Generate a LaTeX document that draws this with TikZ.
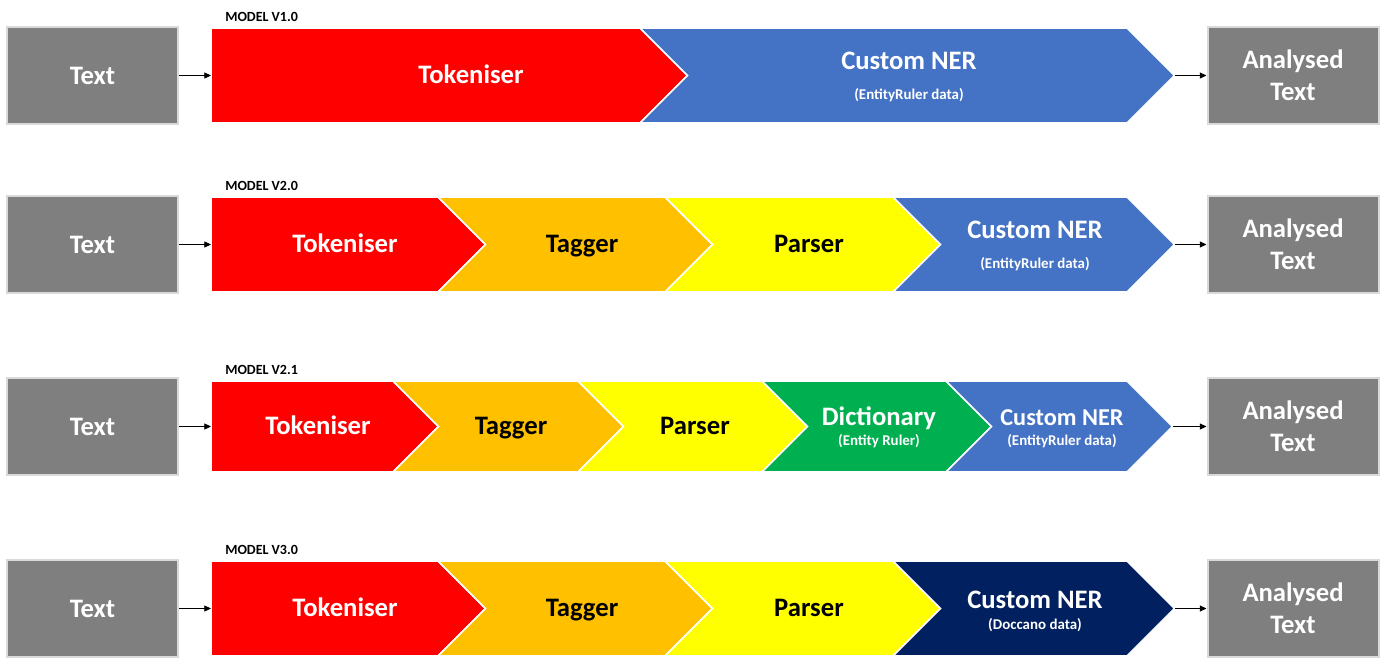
\documentclass[tikz,border=0pt]{standalone}
\usepackage{fontspec}
\setmainfont{Carlito}
\usetikzlibrary{arrows.meta}
\definecolor{cred}{HTML}{FF0000}
\definecolor{corange}{HTML}{FFC000}
\definecolor{cyellow}{HTML}{FFFF00}
\definecolor{cgreen}{HTML}{00B050}
\definecolor{cblue}{HTML}{4472C4}
\definecolor{cnavy}{HTML}{002060}
\definecolor{boxgray}{HTML}{7F7F7F}
\definecolor{boxedge}{HTML}{D9D9D9}
\newcommand\lblfont{\fontsize{20}{24}\selectfont\bfseries}
\newcommand\midlblfont{\fontsize{18.2}{21}\selectfont\bfseries}
\newcommand\sublblfont{\fontsize{11.2}{13}\selectfont\bfseries}
\newcommand\mdlfont{\fontsize{10.5}{12}\selectfont\bfseries}
\newcommand\chevseg[6]{%
  \pgfmathsetmacro\ym{(#3+#4)/2}\pgfmathsetmacro\dd{(#4-#3)/2}%
  \ifnum#6=1
    \path[seg,fill=#5] (#1,#3)--(#2,#3)--({#2+\dd},\ym)--(#2,#4)--(#1,#4)--cycle;
  \else
    \path[seg,fill=#5] (#1,#3)--(#2,#3)--({#2+\dd},\ym)--(#2,#4)--(#1,#4)--({#1+\dd},\ym)--cycle;
  \fi}
\tikzset{
  inbox/.style={fill=boxgray, draw=boxedge, line width=1.5pt, minimum width=128.25pt,
    minimum height=72.75pt, inner sep=0pt, text=white, font=\lblfont, align=center},
  seg/.style={draw=white, line width=1.2pt, line join=miter},
  wlbl/.style={text=white, font=\lblfont, inner sep=0pt, text height=12.9pt, text depth=0pt},
  blbl/.style={text=black, font=\lblfont, inner sep=0pt, text height=12.9pt, text depth=0pt},
  mlbl/.style={text=white, font=\midlblfont, inner sep=0pt, text height=11.7pt, text depth=0pt},
  sublbl/.style={text=white, font=\sublblfont, inner sep=0pt, text height=7.2pt, text depth=0pt},
  model/.style={font=\mdlfont, anchor=west, inner sep=0pt, text height=6.8pt, text depth=0pt},
  flow/.style={-{Triangle[length=5pt,width=4.5pt]}, line width=0.6pt}
}
\begin{document}
\begin{tikzpicture}[x=0.75pt,y=-0.75pt]
\useasboundingbox (0,0) rectangle (1388,668);
% ---------- Row 1 ----------
\node[model] (m1) at (225,16.5) {MODEL V1.0};
\node[inbox] (t1) at (92.5,75.5) {Text};
\node[inbox] (a1) at (1293,75.5) {Analysed\\Text};
\chevseg{211}{640}{28}{123}{cred}{1}
\chevseg{640}{1127}{28}{123}{cblue}{0}
\node[wlbl] (r1a) at (471,75) {Tokeniser};
\node[wlbl] (r1b) at (909,61) {Custom NER};
\node[sublbl] (r1bs) at (909,95) {(EntityRuler data)};
\coordinate (r1in) at (211,75.5);
\coordinate (r1out) at (1174.5,75.5);
\draw[flow] (t1) -- (r1in);
\draw[flow] (r1out) -- (a1);
% ---------- Row 2 ----------
\node[model] (m2) at (225,185.5) {MODEL V2.0};
\node[inbox] (t2) at (92.5,244.5) {Text};
\node[inbox] (a2) at (1293,244.5) {Analysed\\Text};
\chevseg{211}{438}{197}{292}{cred}{1}
\chevseg{438}{665}{197}{292}{corange}{0}
\chevseg{665}{893}{197}{292}{cyellow}{0}
\chevseg{893}{1127}{197}{292}{cblue}{0}
\node[wlbl] (r2a) at (345,244) {Tokeniser};
\node[blbl] (r2b) at (582,244) {Tagger};
\node[blbl] (r2c) at (809,244) {Parser};
\node[wlbl] (r2d) at (1035,230) {Custom NER};
\node[sublbl] (r2ds) at (1035,264) {(EntityRuler data)};
\coordinate (r2in) at (211,244.5);
\coordinate (r2out) at (1174.5,244.5);
\draw[flow] (t2) -- (r2in);
\draw[flow] (r2out) -- (a2);
% ---------- Row 3 ----------
\node[model] (m3) at (225,369.5) {MODEL V2.1};
\node[inbox] (t3) at (92.5,426.5) {Text};
\node[inbox] (a3) at (1293,426.5) {Analysed\\Text};
\chevseg{211}{393}{381}{472}{cred}{1}
\chevseg{393}{578}{381}{472}{corange}{0}
\chevseg{578}{762}{381}{472}{cyellow}{0}
\chevseg{762}{946}{381}{472}{cgreen}{0}
\chevseg{946}{1127}{381}{472}{cblue}{0}
\node[wlbl] (r3a) at (318,426) {Tokeniser};
\node[blbl] (r3b) at (511,426) {Tagger};
\node[blbl] (r3c) at (695,426) {Parser};
\node[wlbl] (r3d) at (879,417) {Dictionary};
\node[sublbl] (r3ds) at (879,441) {(Entity Ruler)};
\node[mlbl] (r3e) at (1062,418) {Custom NER};
\node[sublbl] (r3es) at (1062,441) {(EntityRuler data)};
\coordinate (r3in) at (211,426.5);
\coordinate (r3out) at (1172.5,426.5);
\draw[flow] (t3) -- (r3in);
\draw[flow] (r3out) -- (a3);
% ---------- Row 4 ----------
\node[model] (m4) at (225,549.5) {MODEL V3.0};
\node[inbox] (t4) at (92.5,608.5) {Text};
\node[inbox] (a4) at (1293,608.5) {Analysed\\Text};
\chevseg{211}{438}{561}{656}{cred}{1}
\chevseg{438}{665}{561}{656}{corange}{0}
\chevseg{665}{893}{561}{656}{cyellow}{0}
\chevseg{893}{1127}{561}{656}{cnavy}{0}
\node[wlbl] (r4a) at (345,608) {Tokeniser};
\node[blbl] (r4b) at (582,608) {Tagger};
\node[blbl] (r4c) at (809,608) {Parser};
\node[wlbl] (r4d) at (1035,600) {Custom NER};
\node[sublbl] (r4ds) at (1035,625) {(Doccano data)};
\coordinate (r4in) at (211,608.5);
\coordinate (r4out) at (1174.5,608.5);
\draw[flow] (t4) -- (r4in);
\draw[flow] (r4out) -- (a4);
\end{tikzpicture}
\end{document}
